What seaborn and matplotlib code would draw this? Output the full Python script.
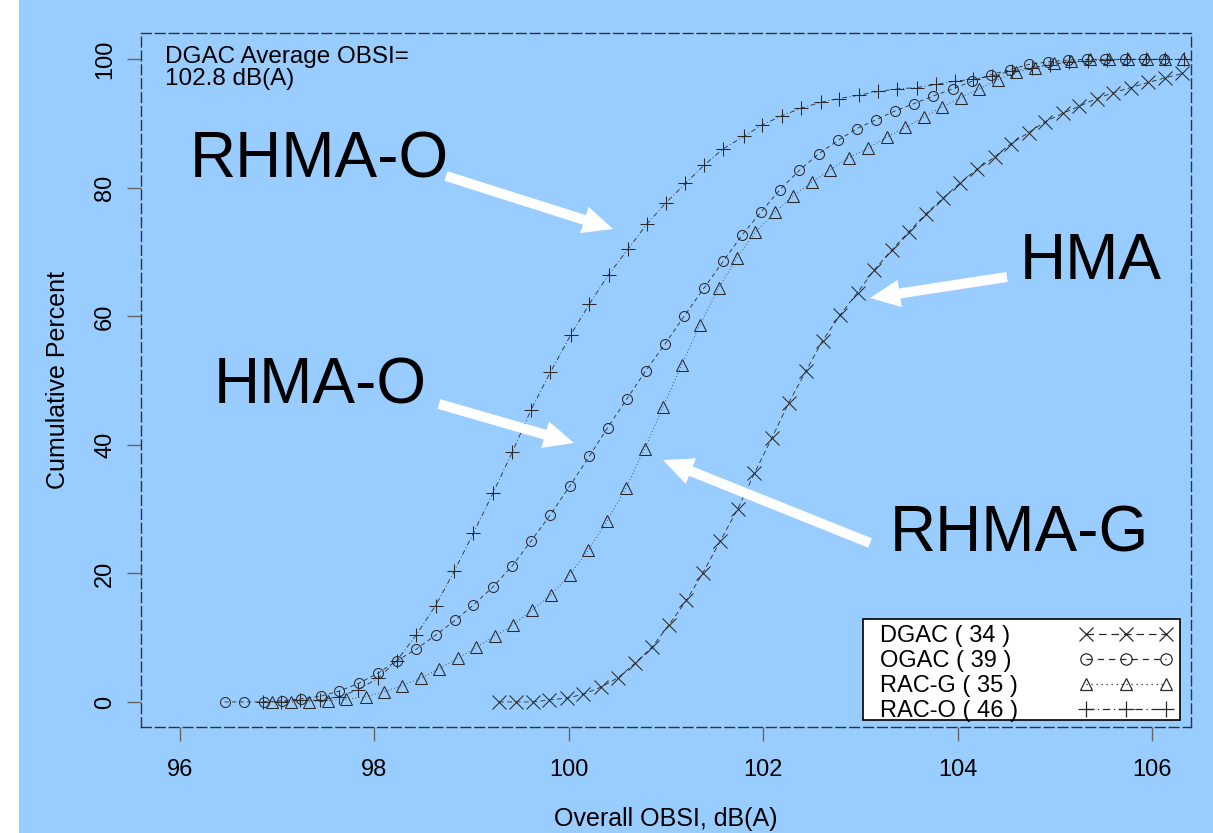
import numpy as np
import pandas as pd
import matplotlib
matplotlib.use("Agg")
import matplotlib.pyplot as plt
import seaborn as sns
from matplotlib.lines import Line2D
from matplotlib.patches import Rectangle

# ---------------- data ----------------
series_names = ["DGAC", "OGAC", "RAC-G", "RAC-O"]
section_counts = [34, 39, 35, 46]

dgac_x = [99.28, 99.46, 99.63, 99.80, 99.98, 100.15, 100.33, 100.51, 100.68, 100.86,
          101.03, 101.21, 101.38, 101.56, 101.74, 101.91, 102.09, 102.26, 102.44, 102.61,
          102.79, 102.97, 103.14, 103.32, 103.50, 103.67, 103.85, 104.02, 104.20, 104.38,
          104.55, 104.73, 104.90, 105.08, 105.25, 105.43, 105.60, 105.78, 105.96, 106.13,
          106.31]
dgac_y = [0, 0, 0, 0.3, 0.6, 1.2, 2.3, 3.8, 6.0, 8.6,
          12.0, 15.8, 20.1, 25.1, 30.1, 35.6, 41.1, 46.5, 51.5, 56.2,
          60.2, 63.7, 67.2, 70.3, 73.2, 75.9, 78.4, 80.7, 82.9, 84.8,
          86.9, 88.6, 90.3, 91.6, 92.7, 93.9, 94.8, 95.6, 96.4, 97.1,
          97.8]

ogac_x = [96.46, 96.66, 96.86, 97.05, 97.25, 97.45, 97.64, 97.84, 98.04, 98.23,
          98.43, 98.63, 98.83, 99.02, 99.22, 99.42, 99.61, 99.81, 100.01, 100.21,
          100.40, 100.60, 100.79, 100.99, 101.19, 101.39, 101.59, 101.78, 101.98, 102.17,
          102.37, 102.57, 102.77, 102.96, 103.16, 103.36, 103.55, 103.75, 103.95, 104.15,
          104.34, 104.54, 104.73, 104.93, 105.13, 105.33, 105.52, 105.72, 105.92, 106.12]
ogac_y = [0, 0, 0, 0.2, 0.5, 0.9, 1.7, 2.9, 4.5, 6.4,
          8.2, 10.4, 12.7, 15.1, 17.9, 21.2, 25.0, 29.1, 33.6, 38.2,
          42.7, 47.2, 51.5, 55.7, 60.1, 64.4, 68.6, 72.6, 76.3, 79.7,
          82.7, 85.3, 87.4, 89.2, 90.6, 92.0, 93.1, 94.3, 95.4, 96.6,
          97.6, 98.4, 99.2, 99.6, 99.9, 100, 100, 100, 100, 100]

racg_x = [96.95, 97.14, 97.33, 97.52, 97.71, 97.91, 98.10, 98.28, 98.48, 98.67,
          98.86, 99.05, 99.24, 99.43, 99.62, 99.82, 100.01, 100.20, 100.39, 100.59,
          100.78, 100.97, 101.16, 101.35, 101.54, 101.73, 101.92, 102.12, 102.31, 102.50,
          102.69, 102.88, 103.08, 103.27, 103.46, 103.65, 103.84, 104.03, 104.22, 104.41,
          104.60, 104.80, 104.99, 105.17, 105.36, 105.56, 105.75, 105.95, 106.13, 106.32]
racg_y = [0, 0, 0, 0.2, 0.4, 0.8, 1.6, 2.5, 3.7, 5.2,
          6.8, 8.5, 10.3, 12.0, 14.3, 16.7, 19.8, 23.6, 28.1, 33.3,
          39.4, 45.9, 52.4, 58.7, 64.4, 69.1, 73.1, 76.2, 78.8, 80.9,
          82.8, 84.7, 86.2, 87.9, 89.4, 91.0, 92.6, 94.0, 95.4, 96.8,
          98.0, 98.7, 99.5, 99.7, 100, 100, 100, 100, 100, 100]

raco_x = [96.85, 97.04, 97.24, 97.44, 97.64, 97.83, 98.04, 98.23, 98.43, 98.63,
          98.82, 99.02, 99.22, 99.42, 99.61, 99.81, 100.02, 100.21, 100.41, 100.61,
          100.80, 101.00, 101.20, 101.39, 101.59, 101.80, 101.99, 102.19, 102.39, 102.59,
          102.78, 102.98, 103.18, 103.38, 103.58, 103.78, 103.97, 104.16, 104.35, 104.56,
          104.76, 104.95, 105.15, 105.34, 105.54, 105.74, 105.94, 106.13, 106.33]
raco_y = [0, 0, 0.3, 0.3, 0.8, 1.9, 3.7, 6.4, 10.4, 15.0,
          20.3, 26.3, 32.5, 38.9, 45.4, 51.3, 57.1, 61.9, 66.5, 70.5,
          74.3, 77.7, 80.7, 83.5, 86.1, 88.0, 89.8, 91.2, 92.4, 93.3,
          93.9, 94.4, 95.0, 95.4, 95.6, 96.1, 96.6, 96.9, 97.4, 98.2,
          98.7, 99.1, 99.6, 99.7, 99.9, 100, 100, 100, 100]

x_ticks = [96, 98, 100, 102, 104, 106]
y_ticks = [0, 20, 40, 60, 80, 100]

# ---------------- styling ----------------
BLUE = "#99CCFF"
INK = "#2a2a2a"
plt.rcParams["font.family"] = ["Liberation Sans", "DejaVu Sans"]

W, H = 1213, 833
fig = plt.figure(figsize=(W / 100, H / 100), dpi=100)
fig.patch.set_facecolor("white")
fig.add_artist(Rectangle((19 / W, 0), 1 - 19 / W, 1, transform=fig.transFigure,
                         facecolor=BLUE, edgecolor="none", zorder=-10))

ax = fig.add_axes([141 / W, 1 - 727 / H, 1050 / W, 693.7 / H])
ax.set_facecolor(BLUE)

styles = {
    "DGAC":  dict(marker="x", ms=9.5, ls=(0, (6, 4))),
    "OGAC":  dict(marker="o", ms=7.2, ls=(0, (5, 4))),
    "RAC-G": dict(marker="^", ms=8.0, ls=(0, (1, 3))),
    "RAC-O": dict(marker="+", ms=10.0, ls=(0, (6, 3, 1, 3))),
}
data = {
    "DGAC": (dgac_x, dgac_y),
    "OGAC": (ogac_x, ogac_y),
    "RAC-G": (racg_x, racg_y),
    "RAC-O": (raco_x, raco_y),
}

for name in series_names:
    xs, ys = data[name]
    df = pd.DataFrame({"x": xs, "y": ys})
    st = styles[name]
    sns.lineplot(data=df, x="x", y="y", ax=ax, estimator=None, sort=False,
                 color=INK, lw=0.6, linestyle=st["ls"], marker=st["marker"],
                 ms=st["ms"], mfc="none", mec=INK, mew=0.75, legend=False)

ax.set_xlim(95.6, 106.4)
ax.set_ylim(-3.9, 104.05)
ax.set_xticks(x_ticks)
ax.set_yticks(y_ticks)
ax.set_xticklabels([str(t) for t in x_ticks])
ax.set_yticklabels([str(t) for t in y_ticks], rotation=90, va="center")

for sp in ax.spines.values():
    sp.set_linestyle((0, (7, 3)))
    sp.set_linewidth(1.0)
    sp.set_color("#333333")

ax.tick_params(axis="both", direction="out", length=10, width=1, color="#666666",
               labelsize=17, labelcolor="black")
ax.tick_params(axis="x", pad=13)
ax.tick_params(axis="y", pad=8)

ax.set_xlabel("Overall OBSI, dB(A)", fontsize=18)
ax.set_ylabel("Cumulative Percent", fontsize=18)
ax.xaxis.set_label_coords(0.5, (727 - 819) / 693.7)
ax.xaxis.label.set_va("center")
ax.yaxis.set_label_coords((58 - 141) / 1050, 0.5)
ax.yaxis.label.set_va("center")

# note in upper left
fig.text(165 / W, 1 - 46 / H, "DGAC Average OBSI=\n102.8 dB(A)", fontsize=17.5,
         ha="left", va="top", linespacing=1.0)

# legend box
fig.add_artist(Rectangle((863 / W, 1 - 720 / H), (1180 - 863) / W, (720 - 619) / H,
                         transform=fig.transFigure, facecolor="white",
                         edgecolor="black", lw=1.2, zorder=3))
handles = [Line2D([], [], color=INK, lw=0.9, linestyle=styles[n]["ls"],
                  marker=styles[n]["marker"], ms=styles[n]["ms"] + 1, mfc="none",
                  mec=INK, mew=0.9) for n in series_names]
labels = [f"{n} ( {c} )" for n, c in zip(series_names, section_counts)]
blank = [Line2D([], [], color="none") for _ in series_names]

common = dict(loc="upper left", bbox_transform=fig.transFigure, frameon=False,
              fontsize=17, labelspacing=0.13, borderpad=0.0, borderaxespad=0.0)
# text column (left aligned)
leg_text = fig.legend(blank, labels, bbox_to_anchor=(880 / W, 1 - 625 / H),
                      handlelength=0, handletextpad=0, **common)
leg_text.set_zorder(4)
# symbol column
leg_sym = fig.legend(handles, [""] * 4, bbox_to_anchor=(1079 / W, 1 - 625 / H),
                     numpoints=3, handlelength=4.0, handletextpad=0, **common)
leg_sym.set_zorder(4)

# big annotation labels with white arrows
big = dict(fontsize=46, color="black", ha="left", va="baseline")
fig.text(190 / W, 1 - 178 / H, "RHMA-O", **big)
fig.text(214 / W, 1 - 404 / H, "HMA-O", **big)
fig.text(1020 / W, 1 - 279 / H, "HMA", **big)
fig.text(890 / W, 1 - 551 / H, "RHMA-G", **big)

arrow_style = "simple,head_length=1.2,head_width=1.1,tail_width=0.4"
arrows = [((446, 176), (613, 229)),
          ((439, 404), (574, 443)),
          ((1007, 277), (870, 298)),
          ((870, 543), (663, 460))]
for (tx, ty), (hx, hy) in arrows:
    ax.annotate("", xy=(hx, H - hy), xycoords="figure pixels",
                xytext=(tx, H - ty), textcoords="figure pixels",
                arrowprops=dict(arrowstyle=arrow_style, color="white", lw=0,
                                mutation_scale=18, shrinkA=0, shrinkB=0),
                annotation_clip=False)

fig.savefig("out.png", dpi=100, facecolor=fig.get_facecolor())
